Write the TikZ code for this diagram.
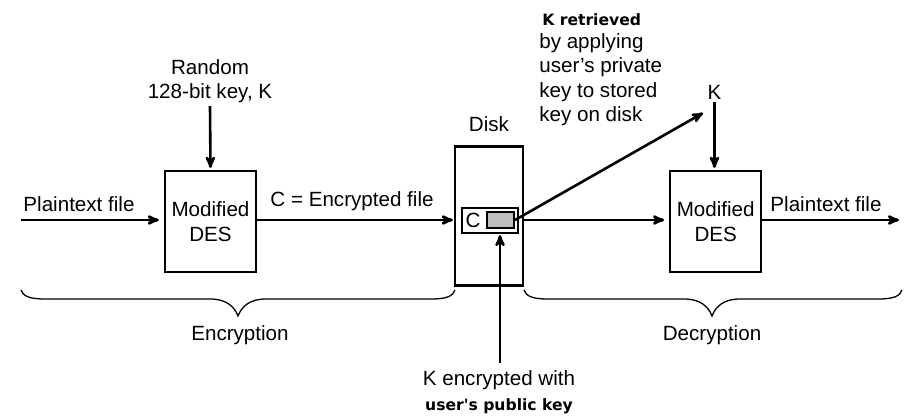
\documentclass[tikz,border=0pt]{standalone}
\usepackage{fontspec}
\setmainfont{Liberation Sans}
\newfontfamily\labelbold[BoldFont={DejaVu Sans Bold}]{DejaVu Sans}
\usetikzlibrary{arrows,positioning,shapes.geometric}
\newcommand{\curlybrace}[3]{% left end, tip, right end
  (#1,290) .. controls (#1+2,296) and (#1+8,299) .. (#1+24,299) -- (#2-28,299)
  .. controls (#2-12,299) and (#2-4,306) .. (#2,316)
  .. controls (#2+4,306) and (#2+12,299) .. (#2+28,299) -- (#3-24,299)
  .. controls (#3-8,299) and (#3-2,296) .. (#3,290)}
\begin{document}
\begin{tikzpicture}[x=1pt,y=-1pt,>=stealth',line width=2.6pt,
                    font=\fontsize{20.6}{24.5}\selectfont,
                    des node/.style={rectangle,draw,line width=2.2pt,align=center,minimum width=91pt,minimum height=101pt,inner sep=0pt},
                    label node/.style={inner sep=2pt,align=center},
                    bold node/.style={inner sep=0pt,font=\fontsize{15.6}{20}\labelbold\bfseries}]
  \useasboundingbox (0,0) rectangle (909,417);
  \node[des node] (enc) at (210.5,221.5) {Modified\\DES};
  \node[des node] (dec) [right=412pt of enc] {Modified\\DES};
  \node[draw,cylinder,shape border rotate=90,aspect=0.76,line width=2.2pt,minimum width=68pt,minimum height=139pt,inner sep=0pt] (disk) at (489,216.5) {};
  \node[draw,line width=2pt,minimum width=56pt,minimum height=25pt,inner sep=0pt] (cbox) at (490,220.5) {};
  \node[draw,line width=2pt,fill=black!25,minimum width=27pt,minimum height=16pt,inner sep=0pt] (key) at (500.5,220) {};
  \node[inner sep=0pt] (c) at (473,220) {C};
  \node (disklabel) [above=10pt of disk,label node] {Disk};
  \node[label node] (random) at (210,81) {Random\\128-bit key, K};
  \node[label node] (k) at (714.5,92) {K};
  \node[label node,anchor=base] (plain1) at (79,211) {Plaintext file};
  \node[label node,anchor=base] (plain2) at (826,211) {Plaintext file};
  \node[label node,anchor=base] (cfile) at (352,206) {C = Encrypted file};
  \node[label node,anchor=base] (encryption) at (240,340) {Encryption};
  \node[label node,anchor=base] (decryption) at (712,340) {Decryption};
  \node[label node,anchor=base] (kenc) at (499,385) {K encrypted with};
  \node[bold node,anchor=base] (pubkey) at (499,410) {user's public key};
  \node[bold node,anchor=base west] (retrieved) at (541,26) {K retrieved};
  \node[label node,anchor=north west,inner sep=0pt,align=left] (applying) at (538,32) {by applying\\user's private\\key to stored\\key on disk};
  \coordinate (plainin) at (21,220);
  \coordinate (plainout) at (899,220);
  \coordinate (kend) at (703,113);
  \coordinate (pubstart) at (500,363);
  \draw[->,shorten >=5pt] (plainin) -- (plainin -| enc.west);
  \draw[->] (enc.east |- plainin) -- ([xshift=-1pt]disk.west |- plainin);
  \draw[->,shorten >=5pt] (disk.east |- plainin) -- (dec.west |- plainin);
  \draw[->] (dec.east |- plainout) -- (plainout);
  \draw[->,shorten >=2pt] (random.south) -- (enc.north);
  \draw[->,shorten >=2pt] (k.south) -- (k.south |- dec.north);
  \draw[->] (key.east) -- (kend);
  \draw[->,shorten >=1pt] (pubstart) -- (pubstart |- cbox.south);
  \draw[line width=1.3pt] \curlybrace{21}{238}{455};
  \draw[line width=1.3pt] \curlybrace{524}{712}{902};
\end{tikzpicture}
\end{document}
